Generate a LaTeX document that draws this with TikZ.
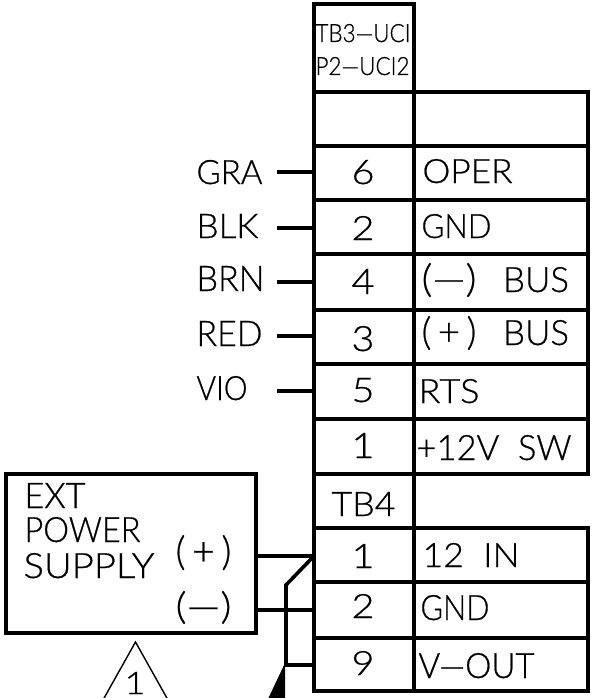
\documentclass[tikz,border=0pt]{standalone}
\usepackage{fontspec}
\usepackage{graphicx}
\setmainfont[FakeBold=0.6]{Lato Light}
\newcommand{\fitt}[3]{\hspace*{-1.5pt}\resizebox{\dimexpr#1pt+3pt\relax}{#2pt}{#3}}
\tikzset{
  x=1pt,y=-1pt,
  heavy/.style={line width=4pt,line cap=rect,line join=miter,black},
  wire/.style={line width=3.6pt,black},
  thinline/.style={line width=1.4pt,black},
  lab/.style={anchor=base west,inner sep=0pt,outer sep=0pt,text=black},
}
\begin{document}
\begin{tikzpicture}
\path[use as bounding box,clip] (0,0) rectangle (605,698);
% terminal grid
\draw[heavy] (314,4) rectangle (414,691);
\draw[heavy] (414,92) -- (588,92) -- (588,474) -- (414,474);
\draw[heavy] (414,528) -- (588,528) -- (588,691) -- (414,691);
\foreach \yy in {92,146,200,254,310,364,419,474,528,582,638}
  \draw[heavy] (314,\yy) -- (414,\yy);
\foreach \yy in {146,200,254,310,364,419,582,638}
  \draw[heavy] (414,\yy) -- (588,\yy);
% power supply box
\node[draw,line width=4pt,minimum width=250pt,minimum height=159pt,anchor=north west,inner sep=0pt,outer sep=0pt] (psu) at (6,474) {};
% coordinates
\coordinate (tgra) at (314,172);
\coordinate (tblk) at (314,228);
\coordinate (tbrn) at (314,282);
\coordinate (tred) at (314,336);
\coordinate (tvio) at (314,391);
\coordinate (fgra) at (277,172);
\coordinate (fblk) at (277,228);
\coordinate (fbrn) at (277,282);
\coordinate (fred) at (277,336);
\coordinate (fvio) at (277,391);
\coordinate (tin) at (314,556);
\coordinate (tgnd) at (314,610);
\coordinate (tout) at (314,665);
\coordinate (pplus) at (256,556);
\coordinate (pminus) at (256,610);
\coordinate (knee) at (286,585);
\coordinate (joint) at (286,665);
\foreach \a/\b in {fgra/tgra,fblk/tblk,fbrn/tbrn,fred/tred,fvio/tvio,pplus/tin,pminus/tgnd}
  \draw[wire] (\a) -- (\b);
\draw[wire,line join=miter] (tin) -- (knee) -- (joint) -- (tout);
\fill (joint) ++(-1,-2) -- (268,699) -- (285,699) -- cycle;
% triangle
\coordinate (ta) at (135.5,642);
\coordinate (tb) at (103,700);
\coordinate (tc) at (168,700);
\draw[thinline] (tb) -- (ta) -- (tc);
% labels
\node[lab] (n1) at (317,42) {\fitt{92}{18}{TB3—UCI}};
\node[lab] (n2) at (317,75) {\fitt{91}{18}{P2—UCI2}};
\node[lab] (gra) at (198,184) {\fitt{63}{24}{GRA}};
\node[lab] (blk) at (198,238) {\fitt{59}{24}{BLK}};
\node[lab] (brn) at (198,291) {\fitt{65}{25}{BRN}};
\node[lab] (red) at (198,346) {\fitt{63}{25}{RED}};
\node[lab] (vio) at (198,400) {\fitt{48}{24}{VIO}};
\node[lab] (d6) at (353,184) {\fitt{20}{24}{6}};
\node[lab] (d2) at (353,240) {\fitt{20}{24}{2}};
\node[lab] (d4) at (353,294) {\fitt{20}{25}{4}};
\node[lab] (d3) at (353,351) {\fitt{20}{25}{3}};
\node[lab] (d5) at (353,402) {\fitt{20}{24}{5}};
\node[lab] (d1) at (353,458) {\fitt{20}{25}{1}};
\node[lab] (tb4) at (333,516) {\fitt{61}{24}{TB4}};
\node[lab] (e1) at (353,568) {\fitt{20}{24}{1}};
\node[lab] (e2) at (353,618) {\fitt{20}{24}{2}};
\node[lab] (e9) at (353,675) {\fitt{20}{24}{9}};
\node[lab] (oper) at (424,183) {\fitt{87}{24}{OPER}};
\node[lab] (gnda) at (423,238) {\fitt{67}{24}{GND}};
\node[lab] (mbus) at (423,292) {\fitt{52}{29}{(—)}\hspace{28pt}\fitt{63}{25}{BUS}};
\node[lab] (pbus) at (423,345) {\fitt{52}{29}{(\,+\,)}\hspace{28pt}\fitt{63}{25}{BUS}};
\node[lab] (rts) at (420,403) {\fitt{58}{24}{RTS}};
\node[lab] (sw) at (418,460) {\fitt{152}{25}{+12V~~SW}};
\node[lab] (in) at (424,567) {\fitt{94}{24}{12~~IN}};
\node[lab] (gndb) at (422,620) {\fitt{66}{25}{GND}};
\node[lab] (vout) at (420,678) {\fitt{113}{25}{V—OUT}};
\node[lab] (ext) at (26,508) {\fitt{58}{25}{EXT}};
\node[lab] (pow) at (26,542) {\fitt{113}{25}{POWER}};
\node[lab] (sup) at (25,578) {\fitt{128}{25}{SUPPLY}};
\node[lab] (pp) at (177,565) {\fitt{53}{30}{(\,+\,)}};
\node[lab] (pm) at (177,619) {\fitt{53}{28}{(—)}};
\node[lab] (tri) at (126,694) {\fitt{18}{22}{1}};
\end{tikzpicture}
\end{document}
